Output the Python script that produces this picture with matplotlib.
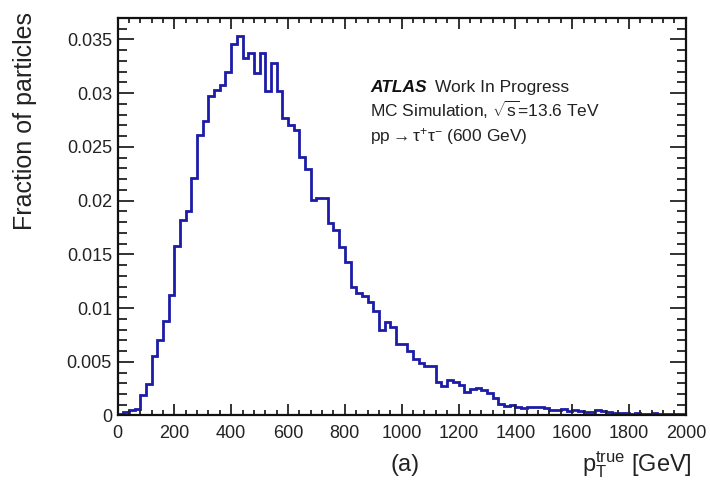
import numpy as np
import matplotlib
matplotlib.use("Agg")
import matplotlib.pyplot as plt
from matplotlib.ticker import MultipleLocator

# START CONFIG

FONT = "Liberation Sans"
LINE_COLOR = "#1c1ca8"

# 20 GeV bins from 0 to 2000 GeV
BIN_EDGES = np.linspace(0, 2000, 101)
FRACTION = [
    0.0001, 0.0003, 0.0005, 0.0006, 0.0019, 0.0029, 0.0055, 0.0070, 0.0088, 0.0112,
    0.0158, 0.0182, 0.0190, 0.0221, 0.0261, 0.0274, 0.0297, 0.0303, 0.0308, 0.0320,
    0.0346, 0.0353, 0.0333, 0.0337, 0.0319, 0.0337, 0.0302, 0.0328, 0.0302, 0.0277,
    0.0270, 0.0266, 0.0241, 0.0229, 0.0201, 0.0202, 0.0202, 0.0179, 0.0173, 0.0157,
    0.0143, 0.0120, 0.0114, 0.0111, 0.0106, 0.0097, 0.0080, 0.0087, 0.0082, 0.0067,
    0.0067, 0.0060, 0.0053, 0.0049, 0.0046, 0.0046, 0.0031, 0.0027, 0.0033, 0.0031,
    0.0028, 0.0022, 0.0025, 0.0026, 0.0024, 0.0021, 0.0016, 0.0011, 0.0009, 0.0010,
    0.0008, 0.0007, 0.0008, 0.0008, 0.0008, 0.0007, 0.0005, 0.0005, 0.0006, 0.0004,
    0.0005, 0.0004, 0.00035, 0.00035, 0.0005, 0.0004, 0.00035, 0.0002, 0.0002, 0.0002,
    0.00015, 0.0002, 0.00015, 0.00015, 0.0002, 0.00015, 0.00015, 0.00012, 0.00012, 0.00012,
]

X_TICKS = list(range(0, 2001, 200))
Y_TICKS = [0, 0.005, 0.01, 0.015, 0.02, 0.025, 0.03, 0.035]
Y_TICK_LABELS = ["0", "0.005", "0.01", "0.015", "0.02", "0.025", "0.03", "0.035"]

# END CONFIG

plt.rcParams["font.family"] = FONT
plt.rcParams["mathtext.fontset"] = "custom"
plt.rcParams["mathtext.rm"] = FONT
plt.rcParams["mathtext.it"] = FONT + ":italic"
plt.rcParams["mathtext.bf"] = FONT + ":bold"

fig = plt.figure(figsize=(7.1, 4.82), dpi=100)
ax = fig.add_axes([0.1655, 0.138, 0.8005, 0.8247])

ax.stairs(FRACTION, BIN_EDGES, color=LINE_COLOR, linewidth=2.0)

ax.set_xlim(0, 2000)
ax.set_ylim(0, 0.037)
ax.set_xticks(X_TICKS)
ax.set_xticklabels([str(t) for t in X_TICKS])
ax.set_yticks(Y_TICKS)
ax.set_yticklabels(Y_TICK_LABELS)
ax.xaxis.set_minor_locator(MultipleLocator(40))
ax.yaxis.set_minor_locator(MultipleLocator(0.001))

ax.tick_params(which="both", direction="in", top=True, right=True,
               width=1.3, colors="#222222", labelsize=13)
ax.tick_params(axis="x", which="major", length=8, pad=7)
ax.tick_params(axis="x", which="minor", length=3.8)
ax.tick_params(axis="y", which="major", length=11.5, pad=4)
ax.tick_params(axis="y", which="minor", length=6.5)
for spine in ax.spines.values():
    spine.set_linewidth(1.6)
    spine.set_color("#111111")

fig.text(0.035, 0.975, "Fraction of particles", rotation=90, ha="center", va="top",
         fontsize=18, color="#222222")
fig.text(0.975, 0.022, r"$\mathrm{p}_{\mathrm{T}}^{\mathrm{true}}$ [GeV]", ha="right",
         va="baseline", fontsize=17, color="#222222")
fig.text(0.571, 0.022, "(a)", ha="center", va="baseline", fontsize=17, color="#222222")

ax.text(0.445, 0.815, "ATLAS", transform=ax.transAxes, fontsize=12.5,
        fontweight="bold", fontstyle="italic", color="#111111")
ax.text(0.558, 0.815, "Work In Progress", transform=ax.transAxes, fontsize=12.5,
        color="#222222")
ax.text(0.445, 0.752, r"MC Simulation, $\sqrt{\mathrm{s}}$=13.6 TeV", transform=ax.transAxes,
        fontsize=12.5, color="#222222")
ax.text(0.445, 0.689, r"pp$\rightarrow\mathrm{\tau}^{+}\mathrm{\tau}^{-}$ (600 GeV)",
        transform=ax.transAxes, fontsize=12.5, color="#222222")

fig.savefig("out.png", dpi=100)
